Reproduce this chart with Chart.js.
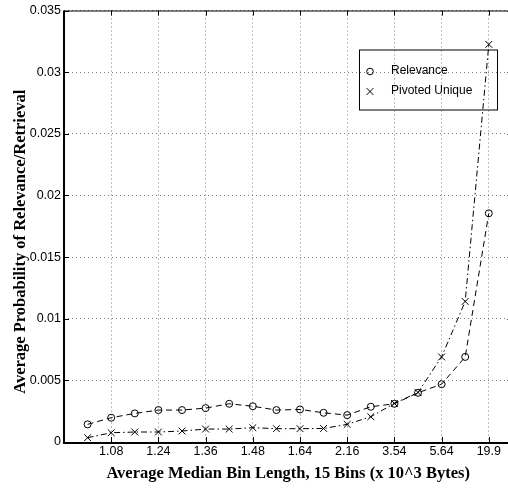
<!DOCTYPE html>
<html>
<head>
<meta charset="utf-8">
<script src="https://cdn.jsdelivr.net/npm/chart.js@4.4.1/dist/chart.umd.min.js"></script>
<style>
  html, body { margin: 0; padding: 0; overflow: hidden; background: #fff; width: 508px; height: 488px; }
  canvas { display: block; }
</style>
</head>
<body>
<canvas id="c" width="530" height="488"></canvas>
<script>
// Bin index (18 plotted bins)
const bins = [1, 2, 3, 4, 5, 6, 7, 8, 9, 10, 11, 12, 13, 14, 15, 16, 17, 18];
// Average probability of relevance per bin
const relevance = [0.00143, 0.00197, 0.00232, 0.00259, 0.00259, 0.00275, 0.0031, 0.0029, 0.00259,
                   0.00264, 0.00237, 0.00218, 0.00286, 0.0031, 0.00399, 0.00469, 0.0069, 0.01855];
// Average probability of retrieval, pivoted unique normalisation
const pivotedUnique = [0.00035, 0.00075, 0.00081, 0.00081, 0.00089, 0.00105, 0.00105, 0.00116, 0.00108,
                       0.00108, 0.0011, 0.00143, 0.00205, 0.00313, 0.00402, 0.0069, 0.0114, 0.03225];
// Labelled bins and their median lengths (x 10^3 bytes)
const tickBins = [2, 4, 6, 8, 10, 12, 14, 16, 18];
const tickLabels = ['1.08', '1.24', '1.36', '1.48', '1.64', '2.16', '3.54', '5.64', '19.9'];
const yTicks = [0, 0.005, 0.01, 0.015, 0.02, 0.025, 0.03, 0.035];

const seriesNames = ['Relevance', 'Pivoted Unique'];
const xTitle = 'Average Median Bin Length, 15 Bins (x 10^3 Bytes)';
const yTitle = 'Average Probability of Relevance/Retrieval';

const toPoints = (vals) => vals.map((v, i) => ({ x: bins[i], y: v }));

const frameAndTicks = {
  id: 'frameAndTicks',
  afterDatasetsDraw(chart) {
    const { ctx, chartArea: a, scales } = chart;
    const xs = scales.x, ys = scales.y;
    ctx.save();
    ctx.strokeStyle = '#000';
    // inward tick marks
    ctx.lineWidth = 1;
    ctx.beginPath();
    xs.ticks.forEach(t => {
      const px = Math.round(xs.getPixelForValue(t.value)) + 0.5;
      ctx.moveTo(px, a.bottom); ctx.lineTo(px, a.bottom - 5);
      ctx.moveTo(px, a.top); ctx.lineTo(px, a.top + 5);
    });
    ys.ticks.forEach(t => {
      const py = Math.round(ys.getPixelForValue(t.value)) + 0.5;
      ctx.moveTo(a.left, py); ctx.lineTo(a.left + 5, py);
      ctx.moveTo(a.right, py); ctx.lineTo(a.right - 5, py);
    });
    ctx.stroke();
    // frame
    ctx.lineWidth = 1.2;
    ctx.beginPath();
    ctx.moveTo(a.left, a.top + 0.5); ctx.lineTo(a.right, a.top + 0.5);
    ctx.moveTo(a.right - 0.5, a.top); ctx.lineTo(a.right - 0.5, a.bottom);
    ctx.stroke();
    ctx.lineWidth = 2;
    ctx.beginPath();
    ctx.moveTo(a.left, a.top); ctx.lineTo(a.left, a.bottom + 1);
    ctx.lineTo(a.right, a.bottom + 1);
    ctx.stroke();

    // legend box (transparent, as in reference)
    const lx = a.left + 295, ly = a.top + 39, lw = 138, lh = 60;
    ctx.lineWidth = 1;
    ctx.strokeRect(lx + 0.5, ly + 0.5, lw, lh);
    ctx.font = '12px "Liberation Sans", Arial, sans-serif';
    ctx.fillStyle = '#000';
    ctx.textBaseline = 'middle';
    ctx.textAlign = 'left';
    const mx = lx + 11;
    ctx.beginPath();
    ctx.arc(mx, ly + 22, 3.3, 0, Math.PI * 2);
    ctx.stroke();
    ctx.fillText(seriesNames[0], lx + 32, ly + 21);
    ctx.beginPath();
    const cy = ly + 42, r = 3.4;
    ctx.moveTo(mx - r, cy - r); ctx.lineTo(mx + r, cy + r);
    ctx.moveTo(mx + r, cy - r); ctx.lineTo(mx - r, cy + r);
    ctx.stroke();
    ctx.fillText(seriesNames[1], lx + 32, ly + 41);

    // y-axis title (placed slightly below the axis centre, as in the reference)
    ctx.font = 'bold 16.5px "Liberation Serif", "Times New Roman", serif';
    ctx.textAlign = 'center';
    ctx.textBaseline = 'middle';
    ctx.translate(21, (a.top + a.bottom) / 2 + 15.5);
    ctx.rotate(-Math.PI / 2);
    ctx.fillText(yTitle, 0, 0);
    ctx.restore();
  }
};

new Chart(document.getElementById('c'), {
  type: 'line',
  data: {
    datasets: [
      {
        label: seriesNames[0],
        data: toPoints(relevance),
        borderColor: '#000',
        borderWidth: 1,
        borderDash: [6, 4],
        pointStyle: 'circle',
        pointRadius: 3.5,
        pointBorderWidth: 1,
        pointBorderColor: '#000',
        pointBackgroundColor: 'rgba(0,0,0,0)',
        tension: 0,
        fill: false
      },
      {
        label: seriesNames[1],
        data: toPoints(pivotedUnique),
        borderColor: '#000',
        borderWidth: 1,
        borderDash: [6, 3, 1.5, 3],
        pointStyle: 'crossRot',
        pointRadius: 4.8,
        pointBorderWidth: 1,
        pointBorderColor: '#000',
        pointBackgroundColor: 'rgba(0,0,0,0)',
        tension: 0,
        fill: false
      }
    ]
  },
  options: {
    responsive: false,
    animation: false,
    devicePixelRatio: 1,
    layout: { padding: { left: 0, top: 9, right: 17.6, bottom: 0 } },
    plugins: {
      legend: { display: false },
      tooltip: { enabled: false }
    },
    scales: {
      x: {
        type: 'linear',
        min: 0,
        max: 19,
        afterBuildTicks: (axis) => { axis.ticks = tickBins.map(v => ({ value: v })); },
        afterFit: (axis) => { axis.height = 46; },
        ticks: {
          autoSkip: false,
          maxRotation: 0,
          padding: 2,
          color: '#000',
          font: { family: '"Liberation Sans", Arial, sans-serif', size: 12.5 },
          callback: (v) => { const i = tickBins.indexOf(v); return i >= 0 ? tickLabels[i] : ''; }
        },
        grid: { color: 'rgba(0,0,0,0.5)', lineWidth: 1, drawTicks: false },
        border: { display: false, dash: [1, 3] },
        title: {
          display: true,
          text: xTitle,
          color: '#000',
          font: { family: '"Liberation Serif", "Times New Roman", serif', size: 16.5, weight: 'bold' },
          padding: { top: 0, bottom: 4 }
        }
      },
      y: {
        type: 'linear',
        min: 0,
        max: 0.035,
        afterBuildTicks: (axis) => { axis.ticks = yTicks.map(v => ({ value: v })); },
        afterFit: (axis) => { axis.width = 64; },
        ticks: {
          padding: 3,
          color: '#000',
          font: { family: '"Liberation Sans", Arial, sans-serif', size: 12.5 },
          callback: (v) => String(+v.toFixed(3))
        },
        grid: { color: 'rgba(0,0,0,0.5)', lineWidth: 1, drawTicks: false },
        border: { display: false, dash: [1, 3] },
        title: { display: false }
      }
    }
  },
  plugins: [frameAndTicks]
});
</script>
</body>
</html>
